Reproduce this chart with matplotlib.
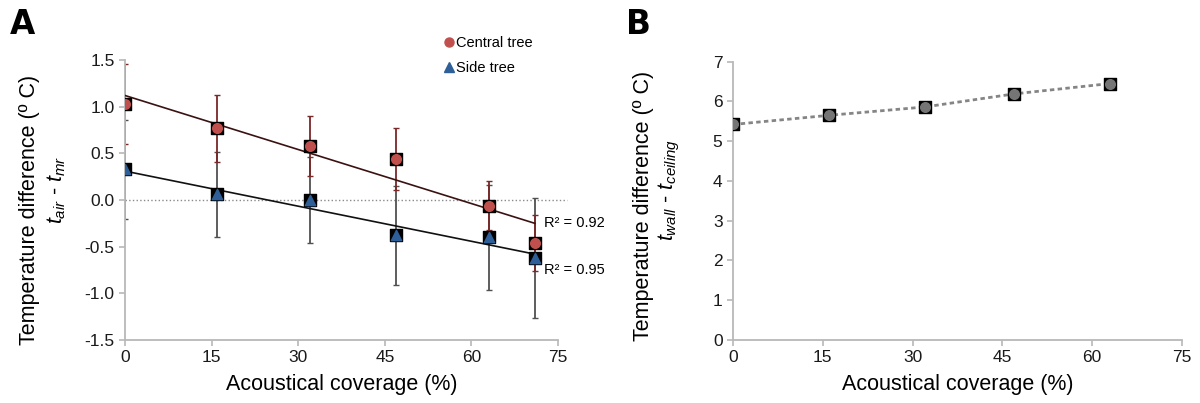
import matplotlib
matplotlib.use("Agg")
import matplotlib.pyplot as plt
from matplotlib.lines import Line2D

plt.rcParams['font.family'] = ['Liberation Sans', 'DejaVu Sans']
plt.rcParams['mathtext.fontset'] = 'custom'
plt.rcParams['mathtext.it'] = 'Liberation Sans:italic'
plt.rcParams['mathtext.rm'] = 'Liberation Sans'

# =========================
# Data
# =========================
coverage_a = [0, 16, 32, 47, 63, 71]
central = [1.03, 0.77, 0.58, 0.44, -0.06, -0.46]
central_err = [0.43, 0.36, 0.32, 0.33, 0.26, 0.30]
side = [0.33, 0.06, 0.00, -0.38, -0.40, -0.62]
side_err = [0.53, 0.46, 0.46, 0.53, 0.56, 0.64]
central_fit = [1.12, -0.25]   # trend line ends at x=0 and x=71
side_fit = [0.31, -0.58]
r2_labels = ["R² = 0.92", "R² = 0.95"]

coverage_b = [0, 16, 32, 47, 63]
wall_ceiling = [5.42, 5.65, 5.86, 6.19, 6.45]

x_ticks = [0, 15, 30, 45, 60, 75]

red = "#c0504d"
blue = "#2f5f98"
grey_axis = "#b8b8b8"

fig = plt.figure(figsize=(12, 4.03), dpi=100)
ax1 = fig.add_axes([0.1042, 0.1563, 0.3608, 0.6947])
ax2 = fig.add_axes([0.6108, 0.1563, 0.3742, 0.6907])


def style_axes(ax):
    for s in ['top', 'right']:
        ax.spines[s].set_visible(False)
    for s in ['left', 'bottom']:
        ax.spines[s].set_color(grey_axis)
        ax.spines[s].set_linewidth(1.3)
    ax.tick_params(axis='both', colors=grey_axis, labelcolor='#1a1a1a',
                   labelsize=12.5, length=4, width=1.2, direction='out')
    ax.set_xticks(x_ticks)
    ax.set_xlim(0, 75)
    ax.set_xlabel("Acoustical coverage (%)", fontsize=15.5, labelpad=6)


# =========================
# Panel A
# =========================
ax = ax1
style_axes(ax)
ax.set_ylim(-1.5, 1.5)
yt = [-1.5, -1.0, -0.5, 0.0, 0.5, 1.0, 1.5]
ax.set_yticks(yt)
ax.set_yticklabels(["%.1f" % v for v in yt])
ax.plot([0, 76.5], [0, 0], ls=':', color='#8a8a8a', lw=1, clip_on=False, zorder=1)

ax.errorbar(coverage_a, side, yerr=side_err, fmt='none', ecolor='#505050',
            elinewidth=1.3, capsize=2.2, capthick=1, zorder=2)
ax.errorbar(coverage_a, central, yerr=central_err, fmt='none', ecolor='#7a2828',
            elinewidth=1.3, capsize=2.2, capthick=1, zorder=2)

ax.plot([0, 71], central_fit, color='#3a1212', lw=1.2, zorder=3)
ax.plot([0, 71], side_fit, color='#111111', lw=1.2, zorder=3)

ax.scatter(coverage_a, central, marker='s', s=68, color='black', zorder=4)
ax.scatter(coverage_a, central, marker='o', s=48, color=red, zorder=5)
ax.scatter(coverage_a, side, marker='s', s=68, color='black', zorder=4)
ax.scatter(coverage_a, side, marker='^', s=55, color=blue, zorder=5)

ax.text(72.5, -0.25, r2_labels[0], fontsize=10.5, va='center', ha='left')
ax.text(72.5, -0.75, r2_labels[1], fontsize=10.5, va='center', ha='left')

handles = [Line2D([], [], marker='o', ls='none', color=red, markersize=6.5),
           Line2D([], [], marker='^', ls='none', color=blue, markersize=6.5)]
ax.legend(handles, ["Central tree", "Side tree"], frameon=False, fontsize=10.5,
          loc='upper left', bbox_to_anchor=(0.718, 1.105), handletextpad=0.0,
          handlelength=1.0, labelspacing=0.75, borderaxespad=0)

fig.text(0.025, 0.479, "Temperature difference (º C)", rotation=90,
         fontsize=15.5, ha='center', va='center')
fig.text(0.047, 0.528, r"$t_{air}$ - $t_{mr}$", rotation=90,
         fontsize=15.5, ha='center', va='center')
fig.text(0.008, 0.938, "A", fontsize=23.5, fontweight='bold',
         family='DejaVu Sans', ha='left', va='center')

# =========================
# Panel B
# =========================
ax = ax2
style_axes(ax)
ax.set_ylim(0, 7)
ax.set_yticks(range(0, 8))
ax.plot(coverage_b, wall_ceiling, ls='--', color='#858585', lw=2,
        dashes=(1.6, 1.2), zorder=2)
ax.scatter(coverage_b, wall_ceiling, marker='s', s=68, color='black', zorder=4)
ax.scatter(coverage_b, wall_ceiling, marker='o', s=48, color='#757575', zorder=5)

fig.text(0.536, 0.49, "Temperature difference (º C)", rotation=90,
         fontsize=15.5, ha='center', va='center')
fig.text(0.558, 0.528, r"$t_{wall}$ - $t_{ceiling}$", rotation=90,
         fontsize=15.5, ha='center', va='center')
fig.text(0.522, 0.938, "B", fontsize=23.5, fontweight='bold',
         family='DejaVu Sans', ha='left', va='center')

fig.savefig("out.png", dpi=100)
